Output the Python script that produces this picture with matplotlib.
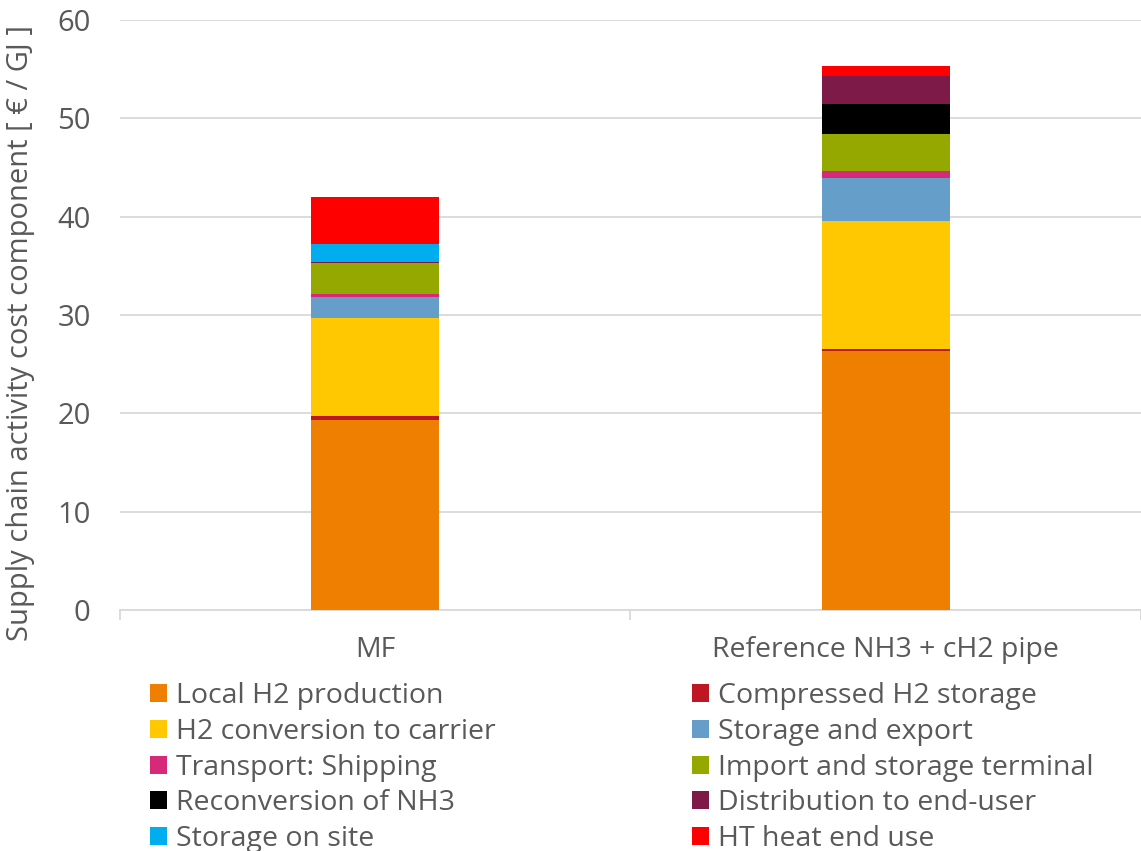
import numpy as np
import matplotlib
matplotlib.use("Agg")
import matplotlib.pyplot as plt
from matplotlib.patches import Patch

categories = ["MF", "Reference NH3 + cH2 pipe"]

components = [
    "Local H2 production",
    "Compressed H2 storage",
    "H2 conversion to carrier",
    "Storage and export",
    "Transport: Shipping",
    "Import and storage terminal",
    "Reconversion of NH3",
    "Distribution to end-user",
    "Storage on site",
    "HT heat end use",
]

# cost per component, one value per scenario (EUR / GJ)
local_h2 = [19.3, 26.3]
compressed_h2 = [0.4, 0.25]
conversion = [9.95, 13.05]
storage_export = [2.2, 4.3]
shipping = [0.25, 0.7]
import_terminal = [3.2, 3.8]
reconversion = [0.0, 3.05]
distribution = [0.1, 2.9]
storage_site = [1.8, 0.0]
ht_heat = [4.75, 1.0]

series = [local_h2, compressed_h2, conversion, storage_export, shipping,
          import_terminal, reconversion, distribution, storage_site, ht_heat]

colors = ["#EE7F00", "#BE1622", "#FFC800", "#659EC9", "#D62A78",
          "#95A800", "#000000", "#7E1A48", "#00AEEF", "#FF0000"]

plt.rcParams["font.family"] = ["Open Sans", "DejaVu Sans"]
text_grey = "#595959"

fig = plt.figure(figsize=(11.41, 8.51), dpi=100)
ax = fig.add_axes([0.105, 0.2832, 0.895, 0.6933])

x = np.arange(len(categories))
bottom = np.zeros(len(categories))
for name, vals, col in zip(components, series, colors):
    vals = np.array(vals)
    ax.bar(x, vals, width=0.25, bottom=bottom, color=col, label=name,
           zorder=3)
    bottom += vals

ax.set_xlim(-0.5, 1.5)
ax.set_ylim(0, 60)
ax.set_yticks(range(0, 61, 10))
ax.grid(axis="y", color="#D9D9D9", linewidth=1.3, zorder=0)
for side in ["top", "right", "left"]:
    ax.spines[side].set_visible(False)
ax.spines["bottom"].set_color("#D9D9D9")
ax.spines["bottom"].set_linewidth(1.3)

ax.set_xticks([-0.5, 0.5, 1.5], minor=False)
ax.set_xticklabels([])
ax.tick_params(axis="x", which="major", length=7, color="#D9D9D9", width=1.3)
ax.set_xticks(x, minor=True)
ax.set_xticklabels(categories, minor=True)
ax.tick_params(axis="x", which="minor", length=0, pad=19,
               labelsize=20.5, labelcolor=text_grey)
ax.tick_params(axis="y", length=0, pad=21, labelsize=21, labelcolor=text_grey)

ax.set_ylabel("Supply chain activity cost component [ € / GJ ]",
              fontsize=21, color=text_grey)
ax.yaxis.set_label_coords(-0.083, 0.47)

# legend: two separate columns
handles = [Patch(facecolor=c, label=n) for n, c in zip(components, colors)]
leg_kw = dict(loc="upper left", frameon=False, fontsize=20.5,
              handlelength=0.6, handleheight=0.6, handletextpad=0.3,
              labelspacing=0.27, borderpad=0)
for col_idx, x0 in [(0, 0.119), (1, 0.594)]:
    idx = range(col_idx, len(components), 2)
    leg = fig.legend([handles[i] for i in idx], [components[i] for i in idx],
                     bbox_to_anchor=(x0, 0.215), **leg_kw)
    for t in leg.get_texts():
        t.set_color(text_grey)

fig.savefig("out.png", dpi=100)
